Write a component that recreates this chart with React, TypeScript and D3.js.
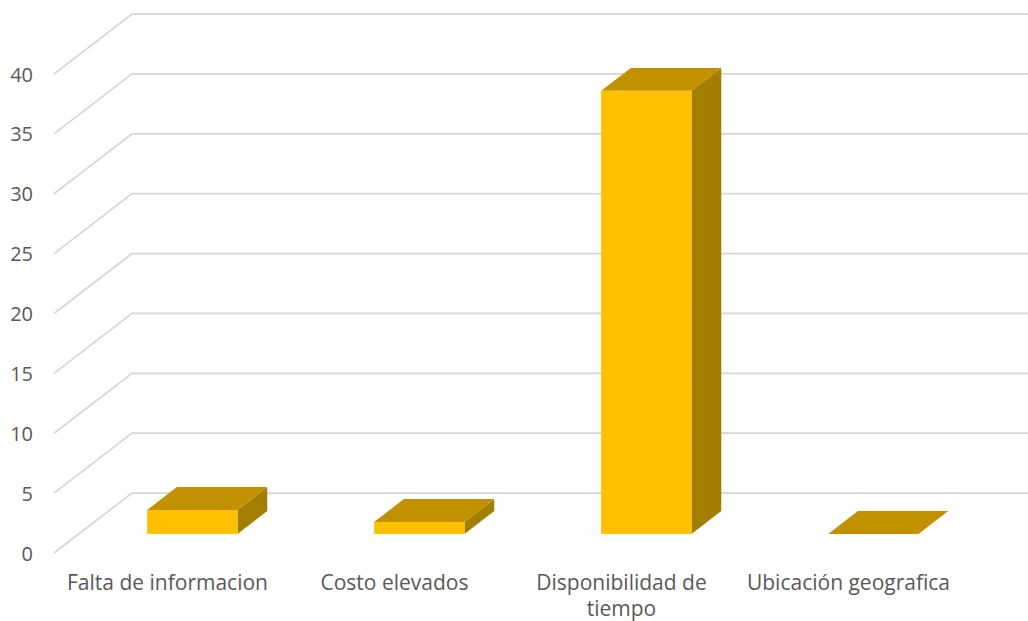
import React, { useEffect, useRef } from "react";
import * as d3 from "d3";

const categories = ["Falta de informacion", "Costo elevados", "Disponibilidad de tiempo", "Ubicación geografica"];
const values = [2, 1, 37, 0];
const yTicks = [0, 5, 10, 15, 20, 25, 30, 35, 40];
const labelLines = [["Falta de informacion"], ["Costo elevados"], ["Disponibilidad de", "tiempo"], ["Ubicación geografica"]];

const W = 1028;
const H = 621;

export default function App() {
  const ref = useRef<SVGSVGElement | null>(null);

  useEffect(() => {
    const svg = d3.select(ref.current);
    svg.selectAll("*").remove();

    const font = "'Open Sans', sans-serif";
    const depthX = 78;
    const depthY = -60;
    const y = d3.scaleLinear().domain([0, 40]).range([553, 74]);
    const x = d3.scaleBand<string>().domain(categories).range([54, 962]).padding(0);
    const barW = x.bandwidth() * 0.398;
    const f0 = 0.318;
    const f1 = 0.7;
    const wallRight = W;

    const g = svg.append("g");

    yTicks.forEach((t) => {
      const yf = y(t);
      const yb = yf + depthY;
      g.append("path")
        .attr("d", `M${54},${yf}L${54 + depthX},${yb}L${wallRight},${yb}`)
        .attr("fill", "none")
        .attr("stroke", "#d6d6d6")
        .attr("stroke-width", 1.75);
      g.append("text")
        .attr("x", 33)
        .attr("y", yf)
        .attr("text-anchor", "end")
        .attr("dominant-baseline", "central")
        .attr("font-family", font)
        .attr("font-size", 20)
        .attr("fill", "#595959")
        .text(String(t));
    });

    categories.forEach((c, i) => {
      const v = values[i];
      const cx = (x(c) as number) + x.bandwidth() / 2;
      const fx0 = cx - barW / 2 + depthX * f0;
      const fx1 = fx0 + barW;
      const yBase = y(0) + depthY * f0;
      const yTop = y(v) + depthY * f0;
      const ddx = depthX * (f1 - f0);
      const ddy = depthY * (f1 - f0);
      g.append("path")
        .attr("d", `M${fx1},${yTop}L${fx1 + ddx},${yTop + ddy}L${fx1 + ddx},${yBase + ddy}L${fx1},${yBase}Z`)
        .attr("fill", "#A47E00");
      g.append("path")
        .attr("d", `M${fx0},${yTop}L${fx0 + ddx},${yTop + ddy}L${fx1 + ddx},${yTop + ddy}L${fx1},${yTop}Z`)
        .attr("fill", "#C29100");
      if (v > 0) {
        g.append("rect")
          .attr("x", fx0)
          .attr("y", yTop)
          .attr("width", barW)
          .attr("height", yBase - yTop)
          .attr("fill", "#FFC000");
      }
    });

    categories.forEach((c, i) => {
      const cx = (x(c) as number) + x.bandwidth() / 2;
      const t = g.append("text")
        .attr("text-anchor", "middle")
        .attr("font-family", font)
        .attr("font-size", 21)
        .attr("fill", "#595959");
      labelLines[i].forEach((line, j) => {
        t.append("tspan").attr("x", cx).attr("y", 590 + j * 26).text(line);
      });
    });
  }, []);

  return (
    <svg
      ref={ref}
      width={W}
      height={H}
      style={{ position: "absolute", left: 0, top: 0, background: "#fff" }}
    />
  );
}
